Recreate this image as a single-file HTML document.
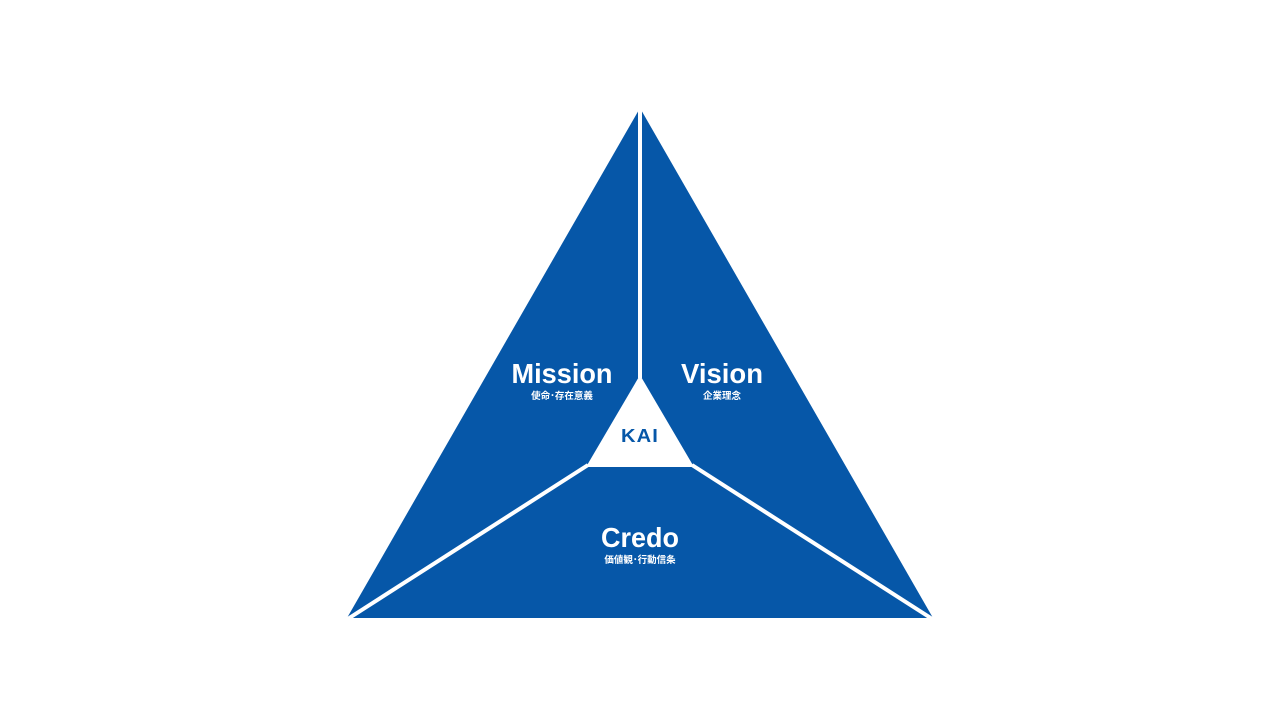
<!DOCTYPE html>
<html><head><meta charset="utf-8"><style>
html,body{margin:0;padding:0;background:#fff;width:1280px;height:720px;overflow:hidden}
</style></head><body>
<svg width="1280" height="720" viewBox="0 0 1280 720" xmlns="http://www.w3.org/2000/svg">
<polygon points="640,108 347,618 933,618" fill="#0657a8"/>
<g stroke="#fff" stroke-width="4" fill="none">
<line x1="640" y1="100" x2="640" y2="378"/>
<line x1="588" y1="465" x2="343" y2="622"/>
<line x1="692" y1="465" x2="937" y2="622"/>
</g>
<polygon points="640,375 586,467 694,467" fill="#fff"/>
<text x="640" y="442" text-anchor="middle" font-family="Liberation Sans, sans-serif" font-weight="bold" font-size="18" fill="#0657a8" letter-spacing="1" textLength="38" lengthAdjust="spacingAndGlyphs">KAI</text>
<g fill="#fff" font-family="Liberation Sans, 'Noto Sans CJK JP', sans-serif" text-anchor="middle">
<text x="562" y="383" font-size="28" font-weight="bold" textLength="101" lengthAdjust="spacingAndGlyphs">Mission</text>
<text x="562" y="399" font-size="9.5" font-weight="bold">使命･存在意義</text>
<text x="722" y="383" font-size="28" font-weight="bold" textLength="82" lengthAdjust="spacingAndGlyphs">Vision</text>
<text x="722" y="399" font-size="9.5" font-weight="bold">企業理念</text>
<text x="640" y="547" font-size="28" font-weight="bold" textLength="78" lengthAdjust="spacingAndGlyphs">Credo</text>
<text x="640" y="563" font-size="9.5" font-weight="bold">価値観･行動信条</text>
</g>
</svg>
</body></html>
